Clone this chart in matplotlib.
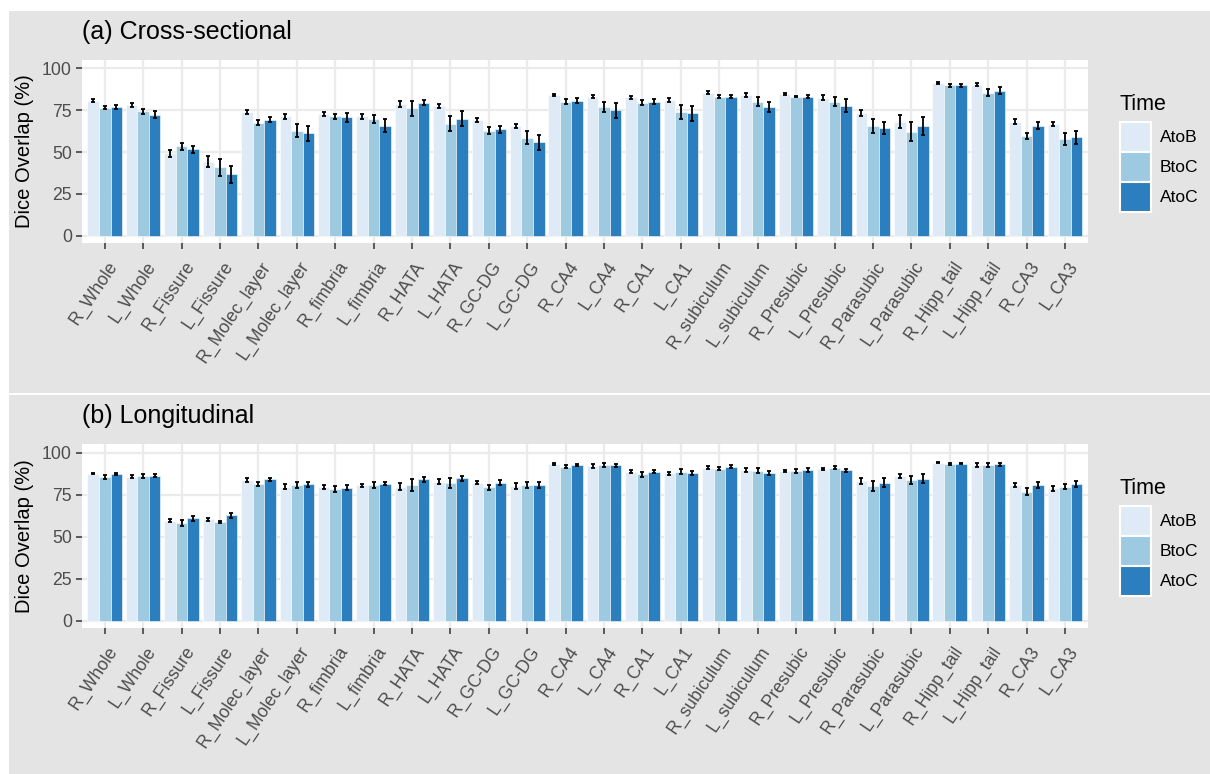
import numpy as np
import matplotlib
matplotlib.use("Agg")
import matplotlib.pyplot as plt
from matplotlib.patches import Rectangle
from matplotlib.transforms import ScaledTranslation

plt.rcParams['font.family'] = ['Liberation Sans', 'DejaVu Sans']

regions = ["R_Whole", "L_Whole", "R_Fissure", "L_Fissure", "R_Molec_layer",
           "L_Molec_layer", "R_fimbria", "L_fimbria", "R_HATA", "L_HATA",
           "R_GC-DG", "L_GC-DG", "R_CA4", "L_CA4", "R_CA1", "L_CA1",
           "R_subiculum", "L_subiculum", "R_Presubic", "L_Presubic",
           "R_Parasubic", "L_Parasubic", "R_Hipp_tail", "L_Hipp_tail",
           "R_CA3", "L_CA3"]
times = ["AtoB", "BtoC", "AtoC"]
colors = ["#DEEBF7", "#9ECAE1", "#2C7FBE"]

# (a) Cross-sectional: mean Dice overlap (%) and standard error
cross_AtoB = [80.7, 78.1, 49.3, 44.3, 73.6, 71.2, 72.8, 71.2, 78.7, 77.5,
              69.2, 65.8, 84.1, 83.1, 82.7, 81.1, 85.5, 84.1, 84.5, 82.5,
              73.2, 68.2, 91.1, 90.1, 68.2, 66.8]
cross_BtoC = [76.5, 74.2, 53.3, 40.8, 67.6, 62.8, 71.2, 69.8, 76.1, 66.8,
              62.8, 58.6, 80.1, 77.1, 79.5, 73.8, 83.1, 80.1, 83.1, 80.1,
              65.6, 62.2, 89.7, 85.5, 59.6, 57.8]
cross_AtoC = [77.1, 72.2, 51.7, 36.8, 69.2, 61.2, 70.6, 65.8, 79.5, 69.8,
              63.6, 55.7, 80.7, 74.8, 80.1, 73.2, 83.1, 76.7, 83.1, 77.7,
              64.2, 65.6, 89.7, 86.5, 65.8, 58.8]
cross_se_AtoB = [0.8, 1.0, 2.0, 3.5, 1.2, 1.3, 1.2, 1.5, 2.0, 1.3,
                 1.3, 1.2, 0.7, 1.0, 1.0, 1.3, 1.0, 1.2, 0.6, 1.5,
                 2.0, 4.0, 0.5, 0.8, 1.3, 1.0]
cross_se_BtoC = [1.0, 1.5, 2.0, 5.0, 1.3, 4.0, 1.5, 2.5, 4.5, 4.5,
                 2.0, 3.8, 1.3, 3.0, 1.5, 4.0, 0.8, 2.5, 0.5, 2.5,
                 4.0, 5.5, 1.0, 2.0, 2.0, 3.5]
cross_se_AtoC = [1.2, 2.2, 2.0, 5.0, 1.5, 4.5, 2.5, 4.0, 1.5, 4.5,
                 2.2, 4.5, 1.3, 4.5, 1.5, 4.5, 1.0, 3.0, 1.0, 4.0,
                 3.5, 5.5, 0.8, 2.0, 2.0, 4.0]

# (b) Longitudinal: mean Dice overlap (%) and standard error
long_AtoB = [87.5, 85.7, 59.6, 60.2, 83.7, 79.7, 79.5, 80.5, 79.7, 82.7,
             82.1, 80.1, 93.4, 92.0, 88.7, 87.7, 91.1, 89.5, 89.1, 90.1,
             83.1, 86.1, 94.0, 92.6, 80.7, 78.7]
long_BtoC = [85.5, 86.3, 58.2, 58.8, 81.1, 80.7, 78.1, 80.7, 80.5, 82.1,
             79.5, 80.7, 91.7, 92.6, 87.1, 88.7, 90.5, 89.1, 89.1, 91.1,
             80.1, 83.7, 93.4, 92.6, 76.7, 79.7]
long_AtoC = [87.1, 86.3, 60.8, 62.6, 84.1, 81.1, 79.1, 81.5, 84.1, 84.7,
             82.1, 80.7, 92.6, 92.4, 88.7, 87.7, 91.7, 87.7, 89.5, 89.5,
             82.1, 84.5, 93.4, 93.0, 80.7, 81.5]
long_se_AtoB = [0.5, 1.0, 1.0, 1.0, 1.0, 1.5, 1.3, 0.8, 2.0, 1.5,
                0.8, 2.0, 0.6, 1.0, 0.8, 1.0, 0.8, 1.2, 0.8, 0.6,
                2.0, 1.3, 0.4, 0.9, 1.3, 1.5]
long_se_BtoC = [1.2, 1.2, 1.8, 0.8, 1.2, 1.5, 1.8, 1.5, 3.5, 3.0,
                1.5, 2.0, 0.6, 1.0, 1.5, 1.3, 1.0, 1.5, 1.3, 0.8,
                3.0, 2.5, 0.6, 0.9, 2.0, 1.5]
long_se_AtoC = [0.6, 1.0, 1.3, 1.3, 0.8, 1.5, 1.5, 1.0, 1.5, 1.5,
                1.5, 2.0, 0.8, 1.0, 0.8, 1.2, 0.8, 1.2, 1.2, 1.0,
                2.5, 2.5, 0.5, 0.9, 1.5, 1.8]

y_ticks = [0, 25, 50, 75, 100]

W, H = 1210, 774
fig = plt.figure(figsize=(W / 100, H / 100), dpi=100, facecolor="white")

def fx(px):
    return px / W

def fy(py):
    return 1 - py / H

# grey plot backgrounds for the two stacked plots
for top, bottom in [(11, 392.5), (395.5, 774)]:
    fig.patches.append(Rectangle((fx(9), fy(bottom)), fx(W) - fx(9),
                                 fy(top) - fy(bottom), transform=fig.transFigure,
                                 facecolor="#E4E4E4", edgecolor="none", zorder=-5))

grey_text = "#4D4D4D"

def draw_panel(top, bottom, title, means, ses):
    ax = fig.add_axes([fx(81.7), fy(bottom), fx(1088) - fx(81.7), fy(top) - fy(bottom)])
    ax.set_zorder(1)
    ax.set_facecolor("white")
    x = np.arange(len(regions))
    width = 0.3
    for j, (m, s) in enumerate(zip(means, ses)):
        pos = x + (j - 1) * width
        ax.bar(pos, m, width=width, color=colors[j], edgecolor="white",
               linewidth=0.4, zorder=2)
        ax.errorbar(pos, m, yerr=s, fmt="none", ecolor="black", elinewidth=1.3,
                    capsize=1.3, capthick=1.3, zorder=3)
    ax.set_xlim(-0.6, len(regions) - 0.4)
    ax.set_ylim(-4.3, 104.9)
    ax.set_yticks(y_ticks)
    ax.set_yticklabels([str(t) for t in y_ticks])
    ax.set_xticks(x)
    ax.set_xticklabels(regions, rotation=56, ha="right", va="top",
                       rotation_mode="anchor")
    ax.tick_params(axis="both", colors="#333333", labelcolor=grey_text,
                   length=4, width=1.1, labelsize=12.7)
    ax.tick_params(axis="x", pad=7)
    ax.tick_params(axis="y", pad=3)
    shift = ScaledTranslation(2 / 100, 0, fig.dpi_scale_trans)
    for lab in ax.get_xticklabels():
        lab.set_transform(lab.get_transform() + shift)
    ax.grid(True, color="#EBEBEB", linewidth=1.6, zorder=0)
    ax.set_axisbelow(True)
    for sp in ax.spines.values():
        sp.set_visible(False)
    ax.set_ylabel("Dice Overlap (%)", fontsize=14.5, color="black", labelpad=6)
    fig.text(fx(82), fy(top - 28), title, fontsize=18, ha="left",
             va="center", color="black")

    # legend
    fig.text(fx(1120), fy(top + 44), "Time", fontsize=15.5, ha="left",
             va="center", color="black")
    for j, t in enumerate(times):
        ky = top + 62 + j * 30
        fig.patches.append(Rectangle((fx(1120), fy(ky + 30)), fx(31), 30 / H,
                                     transform=fig.transFigure,
                                     facecolor=colors[j], edgecolor="white",
                                     linewidth=1.5, zorder=2))
        fig.text(fx(1160), fy(ky + 15), t, fontsize=12.5, ha="left",
                 va="center", color="black")
    return ax

draw_panel(60, 243, "(a) Cross-sectional",
           [cross_AtoB, cross_BtoC, cross_AtoC],
           [cross_se_AtoB, cross_se_BtoC, cross_se_AtoC])
draw_panel(444.3, 628, "(b) Longitudinal",
           [long_AtoB, long_BtoC, long_AtoC],
           [long_se_AtoB, long_se_BtoC, long_se_AtoC])

fig.savefig("out.png", dpi=100, facecolor="white")
